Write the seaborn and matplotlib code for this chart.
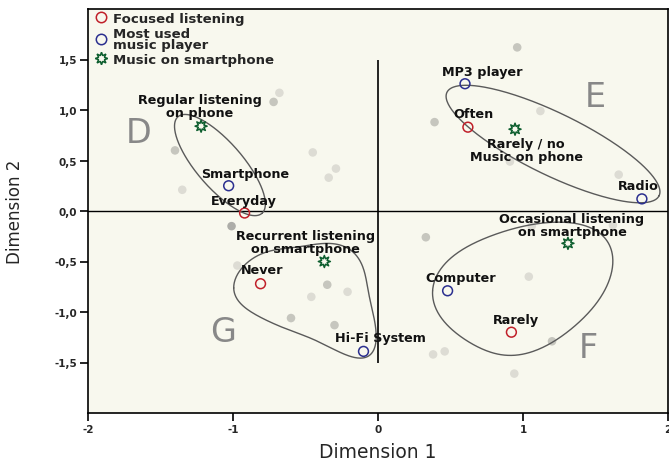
import numpy as np
import pandas as pd
import matplotlib
matplotlib.use("Agg")
import matplotlib.pyplot as plt
from matplotlib.lines import Line2D
import seaborn as sns

# categories of the three variables
focus_labels = ["Everyday", "Often", "Rarely", "Never"]
focus_x = [-0.92, 0.62, 0.92, -0.81]
focus_y = [-0.02, 0.83, -1.20, -0.72]

player_labels = ["Smartphone", "MP3 player", "Radio", "Computer", "Hi-Fi System"]
player_x = [-1.03, 0.60, 1.82, 0.48, -0.10]
player_y = [0.25, 1.26, 0.12, -0.79, -1.39]

phone_labels = ["Regular listening\non phone", "Rarely / no\nMusic on phone",
                "Occasional listening\non smartphone", "Recurrent listening\non smartphone"]
phone_x = [-1.22, 0.945, 1.31, -0.37]
phone_y = [0.84, 0.81, -0.32, -0.50]

# background (supplementary) points
bg_x = [-0.68, -0.72, -1.40, -1.35, -0.45, -0.34, -0.29, -1.01, 0.96, 1.12, 0.39, 0.91, 1.66,
        -0.97, -0.35, -0.46, -0.60, -0.21, -0.30, 0.33, 1.04, 0.38, 0.46, 1.20, 0.94, 1.06, 1.62]
bg_y = [1.17, 1.08, 0.60, 0.21, 0.58, 0.33, 0.42, -0.15, 1.62, 0.99, 0.88, 0.49, 0.36,
        -0.54, -0.73, -0.85, -1.06, -0.80, -1.13, -0.26, -0.65, -1.42, -1.39, -1.29, -1.61, -0.15, -0.14]
bg_shade = ["L", "M", "M", "L", "L", "L", "L", "D", "M", "L", "M", "L", "L",
            "L", "M", "L", "M", "L", "M", "M", "L", "L", "L", "M", "L", "L", "L"]

x_ticks = [-2, -1, 0, 1, 2]
x_ticklabels = ["-2", "-1", "0", "1", "2"]
y_ticks = [-1.5, -1.0, -0.5, 0.0, 0.5, 1.0, 1.5]
y_ticklabels = ["-1,5", "-1,0", "-0,5", "0,0", "0,5", "1,0", "1,5"]

# cluster letters
cluster_names = ["D", "E", "F", "G"]
cluster_x = [-1.65, 1.50, 1.45, -1.07]
cluster_y = [0.78, 1.13, -1.35, -1.19]

# label offsets in pixels (dx, dy), va
offsets = {
    "Everyday": (-1, 6, "bottom"), "Often": (6, 7, "bottom"), "Rarely": (5, 6, "bottom"),
    "Never": (2, 8, "bottom"), "Smartphone": (17, 6, "bottom"), "MP3 player": (17, 6, "bottom"),
    "Radio": (-4, 7, "bottom"), "Computer": (13, 7, "bottom"), "Hi-Fi System": (17, 7, "bottom"),
    "Regular listening\non phone": (-1, 7, "bottom"),
    "Rarely / no\nMusic on phone": (11, -8, "top"),
    "Occasional listening\non smartphone": (4, 5, "bottom"),
    "Recurrent listening\non smartphone": (-19, 6, "bottom"),
}

red = "#c0202a"
blue = "#2b2f8f"
green = "#0d5e2e"
bg_col = "#f8f8ee"
shade_col = {"L": "#dddcd4", "M": "#c6c6be", "D": "#adadA8"}

sns.set_theme(style="ticks")
plt.rcParams["font.family"] = ["DejaVu Sans"]

fig = plt.figure(figsize=(6.69, 4.64), dpi=100)
ax = fig.add_axes([88 / 669, 50 / 464, 580 / 669, 404 / 464])
ax.set_facecolor(bg_col)
ax.set_xlim(-2, 2)
ax.set_ylim(-2, 2)

px_x = 580 / 4
px_y = 404 / 4

bg = pd.DataFrame({"x": bg_x, "y": bg_y, "shade": bg_shade})
sns.scatterplot(data=bg, x="x", y="y", hue="shade", palette=shade_col, s=38,
                linewidth=0, legend=False, ax=ax, zorder=2)

ax.axhline(0, color="black", lw=1, zorder=1)
ax.vlines(0, -1.5, 1.5, color="black", lw=1.2, zorder=1)


def ellipse(cx, cy, a, b, ang):
    t = np.linspace(0, 2 * np.pi, 300)
    th = np.deg2rad(ang)
    u, v = a * np.cos(t), b * np.sin(t)
    return cx + (u * np.cos(th) - v * np.sin(th)) / px_x, cy + (u * np.sin(th) + v * np.cos(th)) / px_y


def smooth_loop(pts, k=4):
    # least-squares Fourier fit of a closed hand-drawn outline, in pixel space
    p = np.array(pts) * [px_x, px_y]
    seg = np.hypot(*np.diff(np.vstack([p, p[:1]]), axis=0).T)
    t = np.concatenate([[0], np.cumsum(seg)[:-1]]) / seg.sum() * 2 * np.pi

    def basis(tt):
        cols = [np.ones_like(tt)]
        for j in range(1, k + 1):
            cols += [np.cos(j * tt), np.sin(j * tt)]
        return np.column_stack(cols)

    coef, *_ = np.linalg.lstsq(basis(t), p, rcond=None)
    tt = np.linspace(0, 2 * np.pi, 400)
    q = basis(tt) @ coef
    return q[:, 0] / px_x, q[:, 1] / px_y


f_outline = [(0.37, -0.79), (0.50, -0.475), (0.63, -0.34), (0.82, -0.23), (1.00, -0.145),
             (1.28, -0.12), (1.46, -0.16), (1.58, -0.28), (1.62, -0.475), (1.60, -0.64),
             (1.51, -0.90), (1.37, -1.135), (1.19, -1.30), (1.05, -1.40), (0.89, -1.43),
             (0.73, -1.38), (0.57, -1.235), (0.43, -1.04)]
g_outline = [(-1.00, -0.755), (-0.95, -0.59), (-0.84, -0.46), (-0.65, -0.37), (-0.47, -0.33),
             (-0.31, -0.34), (-0.19, -0.38), (-0.12, -0.49), (-0.08, -0.71), (-0.04, -0.97),
             (-0.02, -1.27), (-0.04, -1.43), (-0.10, -1.47), (-0.26, -1.38), (-0.47, -1.27),
             (-0.65, -1.15), (-0.81, -1.05), (-0.93, -0.94), (-0.99, -0.84)]

shapes = [ellipse(-1.09, 0.455, 64, 23, -49), ellipse(1.207, 0.663, 118, 31, -26),
          smooth_loop(f_outline, 5), smooth_loop(g_outline, 5)]
for sx, sy in shapes:
    ax.plot(sx, sy, color="#5a5a5a", lw=1, zorder=3)

groups = [
    (focus_labels, focus_x, focus_y, red, "o", 50, "Focused listening"),
    (player_labels, player_x, player_y, blue, "o", 50, "Most used\nmusic player"),
    (phone_labels, phone_x, phone_y, green, (8, 1, 0), 75, "Music on smartphone"),
]
handles = []
for labels, xs, ys, col, mk, size, name in groups:
    df = pd.DataFrame({"x": xs, "y": ys, "label": labels})
    sns.scatterplot(data=df, x="x", y="y", marker=mk, s=size, facecolor="none",
                    edgecolor=col, linewidth=1.1, ax=ax, zorder=5, legend=False)
    for lab, x, y in zip(labels, xs, ys):
        dx, dy, va = offsets[lab]
        ax.annotate(lab, (x, y), xytext=(dx, dy), textcoords="offset pixels",
                    ha="center", va=va, fontsize=9.2, fontweight="bold",
                    color="#111111", zorder=6, linespacing=1.0)
    handles.append(Line2D([], [], ls="none", marker=mk, markersize=7.5 if mk == "o" else 9,
                          markerfacecolor="none", markeredgecolor=col, markeredgewidth=1.1,
                          label=name))

for name, x, y in zip(cluster_names, cluster_x, cluster_y):
    ax.text(x, y, name, fontsize=24, color="#888888", ha="center", va="center", zorder=4)

leg = ax.legend(handles=handles, loc="upper left", bbox_to_anchor=(-0.005, 1.012),
                frameon=False, handletextpad=0.35, labelspacing=0.12, borderaxespad=0.2,
                handlelength=1.2, prop={"weight": "bold", "size": 9.5})
for t in leg.get_texts():
    t.set_linespacing(0.85)

ax.set_xticks(x_ticks)
ax.set_xticklabels(x_ticklabels, fontweight="bold", fontsize=7.5)
ax.set_yticks(y_ticks)
ax.set_yticklabels(y_ticklabels, fontweight="bold", fontsize=7.5)
ax.tick_params(direction="out", length=6, width=1.2, color="black", pad=2)
for sp in ax.spines.values():
    sp.set_visible(True)
    sp.set_color("black")
    sp.set_linewidth(1.2)

ax.set_xlabel("Dimension 1", fontsize=13.5, labelpad=6)
ax.set_ylabel("Dimension 2", fontsize=12, labelpad=22)

fig.savefig("out.png", dpi=100)
